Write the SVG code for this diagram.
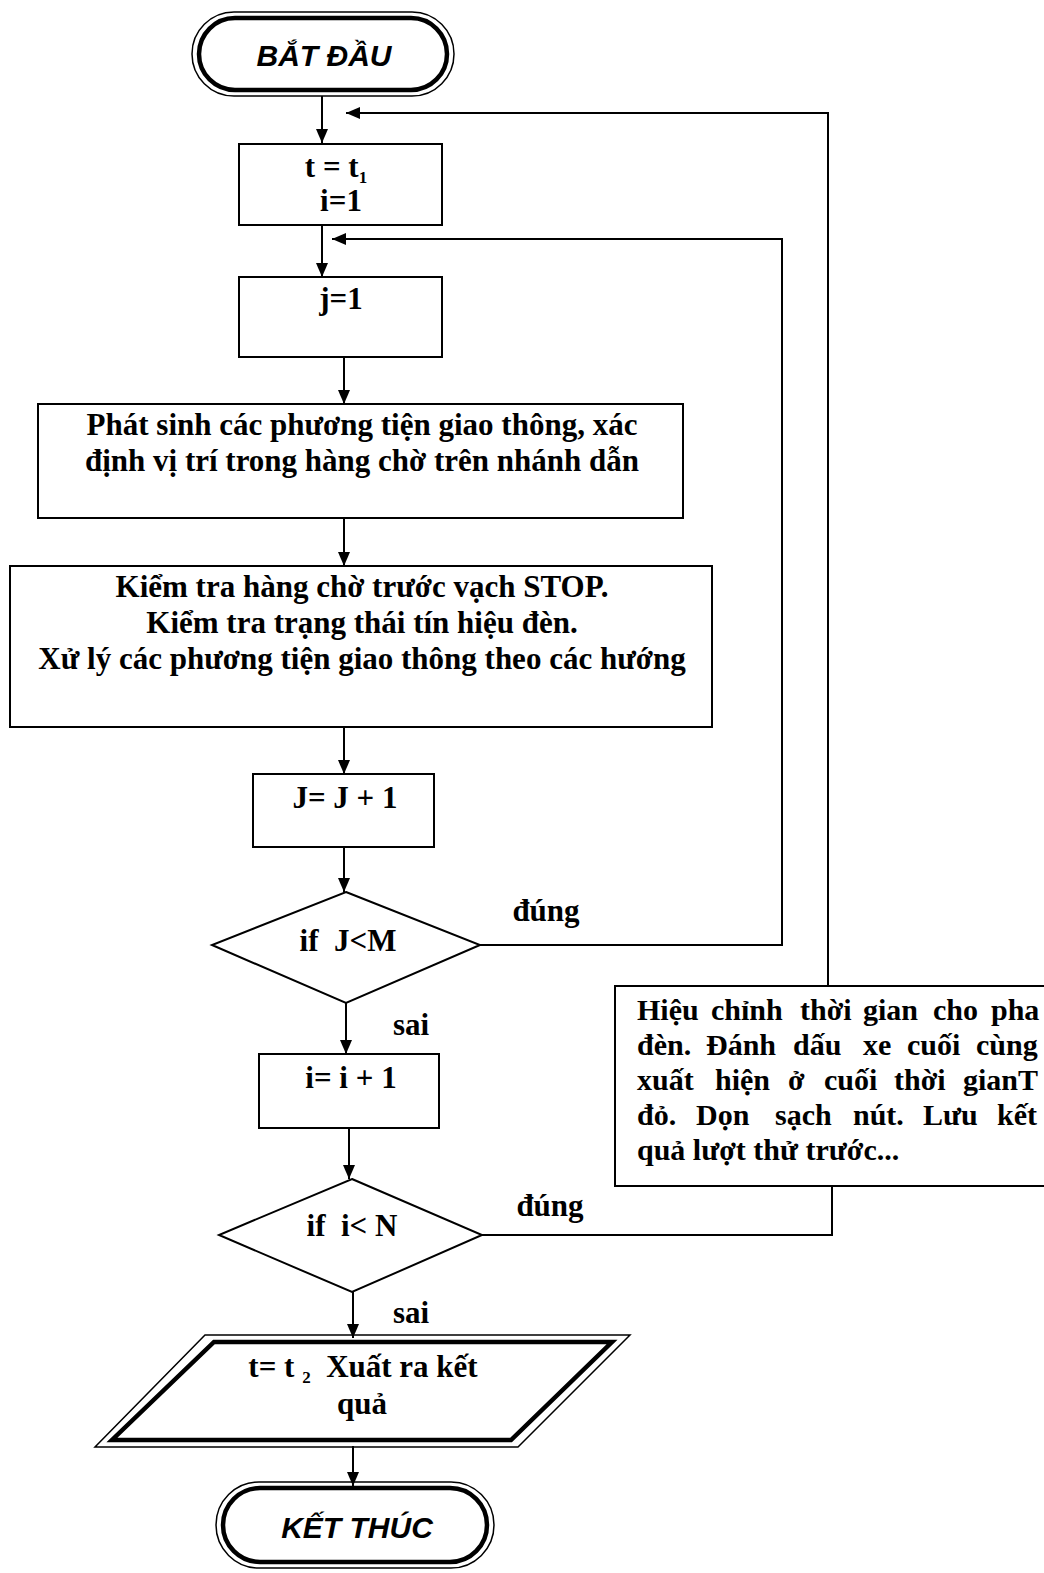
<svg xmlns="http://www.w3.org/2000/svg" width="1044" height="1573" viewBox="0 0 1044 1573">
<defs>
<marker id="ah" markerWidth="14" markerHeight="12" refX="14" refY="6" orient="auto" markerUnits="userSpaceOnUse">
<path d="M0,0 L14,6 L0,12 Z" fill="#000"/>
</marker>
<style>
.bx{fill:#fff;stroke:#000;stroke-width:2}
.thin{fill:none;stroke:#000;stroke-width:1.5}
.thick{fill:#fff;stroke:#000;stroke-width:4.5}
.ln{fill:none;stroke:#000;stroke-width:2}
.t{font-family:"Liberation Serif","Times New Roman",serif;font-weight:bold;font-size:31px;fill:#000;text-anchor:middle}
.tl{font-family:"Liberation Serif","Times New Roman",serif;font-weight:bold;font-size:30px;fill:#000}
.term{font-family:"Liberation Sans",Arial,sans-serif;font-weight:bold;font-style:italic;font-size:30px;fill:#000;text-anchor:middle}
</style>
</defs>
<rect width="1044" height="1573" fill="#fff"/>

<g id="connectors">
<line class="ln" x1="322" y1="96" x2="322" y2="143" marker-end="url(#ah)"/>
<polyline class="ln" points="828,986 828,113 346,113" marker-end="url(#ah)"/>
<line class="ln" x1="322" y1="225" x2="322" y2="277" marker-end="url(#ah)"/>
<polyline class="ln" points="480,945 782,945 782,239 332,239" marker-end="url(#ah)"/>
<line class="ln" x1="344" y1="357" x2="344" y2="404" marker-end="url(#ah)"/>
<line class="ln" x1="344" y1="518" x2="344" y2="566" marker-end="url(#ah)"/>
<line class="ln" x1="344" y1="727" x2="344" y2="774" marker-end="url(#ah)"/>
<line class="ln" x1="344" y1="847" x2="344" y2="892" marker-end="url(#ah)"/>
<line class="ln" x1="346" y1="1003" x2="346" y2="1054" marker-end="url(#ah)"/>
<line class="ln" x1="349" y1="1128" x2="349" y2="1179" marker-end="url(#ah)"/>
<polyline class="ln" points="482,1235 832,1235 832,1186"/>
<line class="ln" x1="353" y1="1292" x2="353" y2="1338" marker-end="url(#ah)"/>
<line class="ln" x1="353" y1="1446" x2="353" y2="1486" marker-end="url(#ah)"/>
<text class="t" x="546" y="921">đúng</text>
<text class="t" x="411" y="1035">sai</text>
<text class="t" x="550" y="1216">đúng</text>
<text class="t" x="411" y="1323">sai</text>
</g>

<g id="start">
<rect class="thin" x="192" y="12" width="262" height="84" rx="42" ry="42"/>
<rect class="thick" x="199" y="18" width="248" height="72" rx="36" ry="36"/>
<text class="term" x="324" y="66">BẮT ĐẦU</text>
</g>

<g id="init">
<rect class="bx" x="239" y="144" width="203" height="81"/>
<text class="t" x="336" y="177">t = t<tspan font-size="17" dy="6">1</tspan></text>
<text class="t" x="341" y="211">i=1</text>
</g>

<g id="jinit">
<rect class="bx" x="239" y="277" width="203" height="80"/>
<text class="t" x="341" y="309">j=1</text>
</g>

<g id="generate">
<rect class="bx" x="38" y="404" width="645" height="114"/>
<text class="t" x="362" y="435">Phát sinh các phương tiện giao thông, xác</text>
<text class="t" x="362" y="471">định vị trí trong hàng chờ trên nhánh dẫn</text>
</g>

<g id="check">
<rect class="bx" x="10" y="566" width="702" height="161"/>
<text class="t" x="362" y="597">Kiểm tra hàng chờ trước vạch STOP.</text>
<text class="t" x="362" y="633">Kiểm tra trạng thái tín hiệu đèn.</text>
<text class="t" x="362" y="669">Xử lý các phương tiện giao thông theo các hướng</text>
</g>

<g id="jinc">
<rect class="bx" x="253" y="774" width="181" height="73"/>
<text class="t" x="345" y="808">J= J + 1</text>
</g>

<g id="condJ">
<polygon class="bx" points="346,892 480,945 346,1003 212,945"/>
<text class="t" x="348" y="951" xml:space="preserve">if  J&lt;M</text>
</g>

<g id="iinc">
<rect class="bx" x="259" y="1054" width="180" height="74"/>
<text class="t" x="351" y="1088">i= i + 1</text>
</g>

<g id="condI">
<polygon class="bx" points="352,1179 482,1235 352,1292 219,1235"/>
<text class="t" x="352" y="1236" xml:space="preserve">if  i&lt; N</text>
</g>

<g id="adjust">
<rect class="bx" x="615" y="986" width="431" height="200"/>
<text class="tl" y="1020"><tspan x="637">Hiệu</tspan><tspan x="711">chỉnh</tspan><tspan x="800">thời</tspan><tspan x="863">gian</tspan><tspan x="933">cho</tspan><tspan x="991">pha</tspan></text>
<text class="tl" y="1055"><tspan x="637">đèn.</tspan><tspan x="706">Đánh</tspan><tspan x="793">dấu</tspan><tspan x="863">xe</tspan><tspan x="907">cuối</tspan><tspan x="976">cùng</tspan></text>
<text class="tl" y="1090"><tspan x="637">xuất</tspan><tspan x="715">hiện</tspan><tspan x="788">ở</tspan><tspan x="824">cuối</tspan><tspan x="894">thời</tspan><tspan x="963">gianT</tspan></text>
<text class="tl" y="1125"><tspan x="637">đỏ.</tspan><tspan x="696">Dọn</tspan><tspan x="775">sạch</tspan><tspan x="853">nút.</tspan><tspan x="923">Lưu</tspan><tspan x="997">kết</tspan></text>
<text class="tl" x="637" y="1160">quả lượt thử trước...</text>
</g>

<g id="output">
<polygon class="thin" points="205,1335 630,1335 518,1447 95,1447"/>
<polygon class="thick" points="214,1342 612,1342 511,1440 112,1440"/>
<text class="t" x="363" y="1377" xml:space="preserve">t= t <tspan font-size="17" dy="6">2</tspan><tspan dy="-6">  Xuất ra kết</tspan></text>
<text class="t" x="362" y="1414">quả</text>
</g>

<g id="end">
<rect class="thin" x="216" y="1482" width="278" height="86" rx="43" ry="43"/>
<rect class="thick" x="223" y="1488" width="264" height="74" rx="37" ry="37"/>
<text class="term" x="357" y="1538">KẾT THÚC</text>
</g>
</svg>
